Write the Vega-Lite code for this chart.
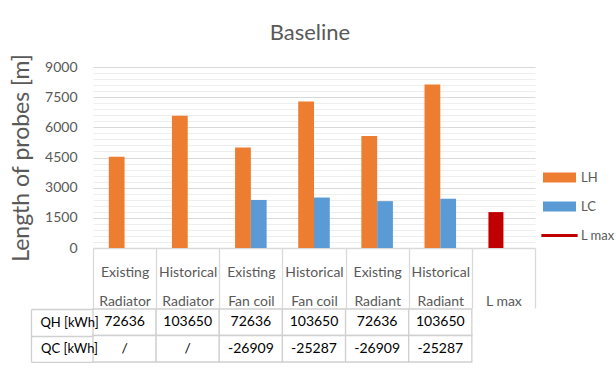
{
  "$schema": "https://vega.github.io/schema/vega-lite/v6.json",
  "background": "white",
  "padding": {"left": 10, "top": 22, "right": 0, "bottom": 0},
  "config": {"font": "Lato", "view": {"stroke": null}},
  "title": {"text": "Baseline", "fontSize": 22, "font": "Lato", "fontWeight": "normal", "color": "#595959", "anchor": "middle", "frame": "group", "offset": 8, "dx": -4},
  "spacing": -6,
  "vconcat": [
    {
      "width": 442,
      "height": 181,
      "data": {"values": [
        {"cat": "Existing|Radiator", "series": "LH", "value": 4540},
        {"cat": "Historical|Radiator", "series": "LH", "value": 6580},
        {"cat": "Existing|Fan coil", "series": "LH", "value": 5000},
        {"cat": "Existing|Fan coil", "series": "LC", "value": 2390},
        {"cat": "Historical|Fan coil", "series": "LH", "value": 7290},
        {"cat": "Historical|Fan coil", "series": "LC", "value": 2510},
        {"cat": "Existing|Radiant", "series": "LH", "value": 5575},
        {"cat": "Existing|Radiant", "series": "LC", "value": 2330},
        {"cat": "Historical|Radiant", "series": "LH", "value": 8125},
        {"cat": "Historical|Radiant", "series": "LC", "value": 2450},
        {"cat": "|L max", "series": "L max", "value": 1785}
      ]},
      "encoding": {
        "x": {
          "field": "cat", "type": "nominal", "sort": null,
          "scale": {"domain": ["Existing|Radiator", "Historical|Radiator", "Existing|Fan coil", "Historical|Fan coil", "Existing|Radiant", "Historical|Radiant", "|L max"], "paddingInner": 0, "paddingOuter": 0},
          "axis": {"title": null, "labelAngle": 0, "tickBand": "extent", "tickSize": 60, "tickColor": "#d9d9d9", "tickWidth": 1.3, "domainColor": "#d9d9d9", "domainWidth": 1.3, "labelPadding": -36, "labelBaseline": "middle", "labelLineHeight": 29.5, "labelFontSize": 14, "labelColor": "#595959", "labelExpr": "split(datum.label, '|')", "labelOverlap": false, "grid": false}
        },
        "y": {
          "field": "value", "type": "quantitative",
          "scale": {"domain": [0, 9000], "nice": false},
          "axis": {"title": "Length of probes [m]", "values": [0,300,600,900,1200,1500,1800,2100,2400,2700,3000,3300,3600,3900,4200,4500,4800,5100,5400,5700,6000,6300,6600,6900,7200,7500,7800,8100,8400,8700,9000], "format": "d", "labelExpr": "datum.value % 1500 === 0 ? datum.label : ''", "gridColor": {"condition": {"test": "datum.value % 1500 === 0", "value": "#d9d9d9"}, "value": "#eeeeee"}, "gridWidth": 1.2, "ticks": false, "domain": false, "labelPadding": 16, "labelFontSize": 14, "labelColor": "#595959", "titleFontSize": 23, "titleColor": "#595959", "titleFontWeight": "normal", "titlePadding": 11}
        },
        "color": {
          "field": "series", "type": "nominal",
          "scale": {"domain": ["LH", "LC", "L max"], "range": ["#ED7D31", "#5B9BD5", "#C00000"]},
          "legend": {"title": null, "orient": "none", "legendX": 450, "legendY": 94, "symbolType": "M-1,-0.3H1V0.3H-1Z", "symbolSize": 1089, "symbolStrokeWidth": 0, "labelFontSize": 13, "labelColor": "#595959", "labelOffset": 5, "rowPadding": 5, "encode": {"symbols": {"update": {"shape": {"signal": "datum.value === 'L max' ? 'M-1.1,-0.09H1.1V0.09H-1.1Z' : 'M-1,-0.3H1V0.3H-1Z'"}}}}}
        }
      },
      "layer": [
        {
          "transform": [{"filter": "datum.series !== 'L max'"}],
          "mark": {"type": "bar"},
          "encoding": {"xOffset": {"field": "series", "type": "nominal", "scale": {"domain": ["LH", "LC"], "paddingInner": 0, "paddingOuter": 1.1}}}
        },
        {
          "transform": [{"filter": "datum.series === 'L max'"}],
          "mark": {"type": "bar", "width": 15, "xOffset": -7.5}
        }
      ]
    },
    {
      "width": 442,
      "height": 53,
      "data": {"values": [
        {"cat": "Existing|Radiator", "row": "QH [kWh]", "val": "72636"},
        {"cat": "Historical|Radiator", "row": "QH [kWh]", "val": "103650"},
        {"cat": "Existing|Fan coil", "row": "QH [kWh]", "val": "72636"},
        {"cat": "Historical|Fan coil", "row": "QH [kWh]", "val": "103650"},
        {"cat": "Existing|Radiant", "row": "QH [kWh]", "val": "72636"},
        {"cat": "Historical|Radiant", "row": "QH [kWh]", "val": "103650"},
        {"cat": "Existing|Radiator", "row": "QC [kWh]", "val": "/"},
        {"cat": "Historical|Radiator", "row": "QC [kWh]", "val": "/"},
        {"cat": "Existing|Fan coil", "row": "QC [kWh]", "val": "-26909"},
        {"cat": "Historical|Fan coil", "row": "QC [kWh]", "val": "-25287"},
        {"cat": "Existing|Radiant", "row": "QC [kWh]", "val": "-26909"},
        {"cat": "Historical|Radiant", "row": "QC [kWh]", "val": "-25287"}
      ]},
      "encoding": {
        "x": {"field": "cat", "type": "nominal", "sort": null, "scale": {"domain": ["Existing|Radiator", "Historical|Radiator", "Existing|Fan coil", "Historical|Fan coil", "Existing|Radiant", "Historical|Radiant", "|L max"], "paddingInner": 0, "paddingOuter": 0}, "axis": null},
        "y": {"field": "row", "type": "nominal", "sort": null, "scale": {"domain": ["QH [kWh]", "QC [kWh]"], "paddingInner": 0, "paddingOuter": 0},
          "axis": {"title": null, "orient": "left", "offset": 62, "tickSize": -62, "tickBand": "extent", "tickColor": "#d0d0d0", "tickWidth": 1.3, "domainColor": "#d0d0d0", "domainWidth": 1.3, "labelAlign": "center", "labelPadding": 24, "labelFontSize": 13, "labelColor": "#000000", "labelBaseline": "middle", "grid": false}}
      },
      "layer": [
        {"mark": {"type": "rect", "fill": "white", "stroke": "#d0d0d0", "strokeWidth": 1.3}},
        {"mark": {"type": "text", "fontSize": 14, "color": "#000000"}, "encoding": {"text": {"field": "val"}}}
      ]
    }
  ]
}
